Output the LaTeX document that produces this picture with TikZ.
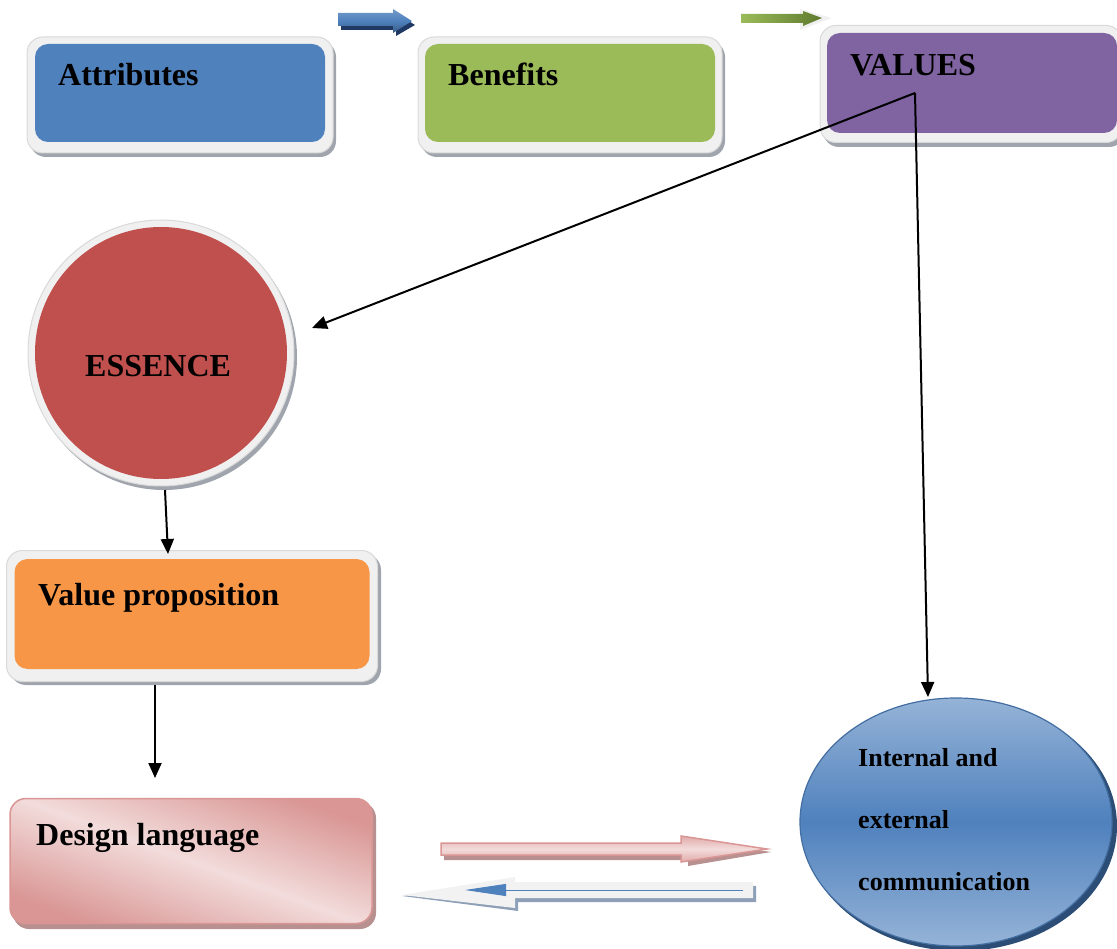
\documentclass[tikz,border=0pt]{standalone}
\usepackage{fontspec}
\setmainfont{Liberation Serif}
\usetikzlibrary{arrows.meta,shapes.geometric}
\definecolor{cblue}{HTML}{4F81BD}
\definecolor{cblued}{HTML}{1F3864}
\definecolor{cbluel}{HTML}{95B3D7}
\definecolor{cblueshadow}{HTML}{2C4D75}
\definecolor{cgreen}{HTML}{9BBB59}
\definecolor{cgreend}{HTML}{5E7A2E}
\definecolor{cpurple}{HTML}{8064A2}
\definecolor{cred}{HTML}{C0504D}
\definecolor{corange}{HTML}{F79646}
\definecolor{cpink}{HTML}{D99694}
\definecolor{cpinkl}{HTML}{F2DCDB}
\definecolor{cpinkd}{HTML}{B8908F}
\definecolor{framefill}{HTML}{F0F0F0}
\definecolor{frameedge}{HTML}{D9D9D9}
\definecolor{shadowgray}{HTML}{A0A4AC}
\definecolor{cgrayarrow}{HTML}{F2F2F2}
\definecolor{cgrayshadow}{HTML}{8EA0B7}
\begin{document}
\begin{tikzpicture}[x=1pt,y=-1pt,
  frame/.style={fill=framefill, draw=frameedge, line width=1pt, rounded corners=16pt, outer sep=0pt, inner sep=0pt},
  shadowbox/.style={fill=shadowgray, rounded corners=16pt},
  inner/.style={rounded corners=13pt, outer sep=0pt, inner sep=0pt},
  lbl/.style={font=\bfseries\fontsize{32}{38}\selectfont, anchor=base west, inner sep=0pt},
  conn/.style={line width=2pt, -{Triangle[length=15pt,width=13pt]}}]
\useasboundingbox (0,0) rectangle (1117,949);

% ---------- Attributes ----------
\fill[shadowbox] (30,41) rectangle (336,157);
\node[frame, minimum width=306, minimum height=116] (attrf) at (180,95) {};
\node[inner, fill=cblue, minimum width=290, minimum height=98] (attr) at (180,93) {};
\node[lbl] (attrt) at (58,86) {Attributes};

% ---------- Benefits ----------
\fill[shadowbox] (421,41) rectangle (725,157);
\node[frame, minimum width=304, minimum height=116] (benf) at (570,95) {};
\node[inner, fill=cgreen, minimum width=290, minimum height=98] (ben) at (570,93) {};
\node[lbl] (bent) at (448,86) {Benefits};

% ---------- VALUES ----------
\fill[shadowbox] (823,30) rectangle (1125,147);
\node[frame, minimum width=302, minimum height=117] (valf) at (971,84) {};
\node[inner, fill=cpurple, minimum width=290, minimum height=100] (val) at (972,83) {};
\node[lbl] (valt) at (850,76) {VALUES};

% ---------- top arrows ----------
\fill[cblued] (341,17) -- (396,17) -- (396,13) -- (415,25) -- (396,36) -- (396,30) -- (341,30) -- cycle;
\shade[top color=cblue!80, bottom color=cblue!70!black, middle color=cblue] (338,13) -- (393,13) -- (393,9) -- (412,21) -- (393,33) -- (393,26) -- (338,26) -- cycle;
\fill[framefill] (800,9) -- (832,18) -- (800,30) -- cycle;
\shade[left color=cgreen, right color=cgreend] (741,14) -- (803,14) -- (803,11) -- (822,18) -- (803,26) -- (803,23) -- (741,23) -- cycle;

% ---------- ESSENCE ----------
\fill[shadowgray] (164,357) circle (133);
\node[circle, fill=framefill, draw=frameedge, line width=1pt, minimum size=266, inner sep=0pt] (essf) at (161,353) {};
\node[circle, fill=cred, minimum size=252, inner sep=0pt] (ess) at (161,353) {};
\node[lbl] (esst) at (85,377) {ESSENCE};

% ---------- Value proposition ----------
\fill[shadowbox] (10,554) rectangle (381,685);
\node[frame, minimum width=371, minimum height=131] (vpf) at (192,616) {};
\node[inner, fill=corange, minimum width=355, minimum height=110] (vp) at (192,614) {};
\node[lbl] (vpt) at (38,605) {Value proposition};

% ---------- Design language ----------
\fill[cpinkd, rounded corners=16pt] (13,802) rectangle (376,929);
\node[rounded corners=16pt, draw=cpink, line width=1.5pt, shading=axis, top color=cpink, bottom color=cpink, middle color=cpinkl, shading angle=160, minimum width=362, minimum height=125, inner sep=0pt, outer sep=0pt] (dl) at (191,861) {};
\node[lbl] (dlt) at (36,845) {Design language};

% ---------- Internal and external communication ----------
\fill[cblueshadow] (960,826) ellipse (157 and 125);
\node[ellipse, draw=cblue!85!black, line width=1.2pt, shading=axis, top color=cbluel, bottom color=cbluel, middle color=cblue, minimum width=312, minimum height=248, inner sep=0pt] (iec) at (956,822) {};
\node[font=\bfseries\fontsize{26}{62}\selectfont, align=left, anchor=north west, inner sep=0pt] (iect) at (858,748) {Internal and\\external\\communication};

% ---------- double arrows at bottom ----------
\fill[cpinkd] (444,845) -- (688,845) -- (688,840) -- (771,852) -- (688,866) -- (688,860) -- (444,860) -- cycle;
\draw[cpink, line width=1.5pt, shading=axis, top color=cpink!80, bottom color=cpink!80, middle color=cpinkl] (441,843) -- (681,843) -- (681,836) -- (767,849) -- (681,862) -- (681,855) -- (441,855) -- cycle;
\fill[cgrayshadow] (756,886) -- (756,902) -- (518,902) -- (518,911) -- (402,896) -- (518,882) -- cycle;
\fill[cgrayarrow] (753,882) -- (753,898) -- (515,898) -- (515,908) -- (402,895) -- (515,877) -- (515,882) -- cycle;
\coordinate (bla) at (743,890);
\coordinate (blb) at (465,890);
\draw[cblue, line width=0.9pt, -{Triangle[length=41pt,width=12pt]}] (bla) -- (blb);

% ---------- connectors ----------
\coordinate (vsrc) at (915,93);
\coordinate (essin) at (312,328);
\coordinate (iectop) at (928,697);
\coordinate (essout) at (165,490);
\coordinate (vpin) at (168,554);
\coordinate (vpout) at (155,685);
\coordinate (dlin) at (155,778);
\draw[conn] (vsrc) -- (essin);
\draw[conn] (vsrc) -- (iectop);
\draw[conn] (essout) -- (vpin);
\draw[conn] (vpout) -- (dlin);
\end{tikzpicture}
\end{document}
